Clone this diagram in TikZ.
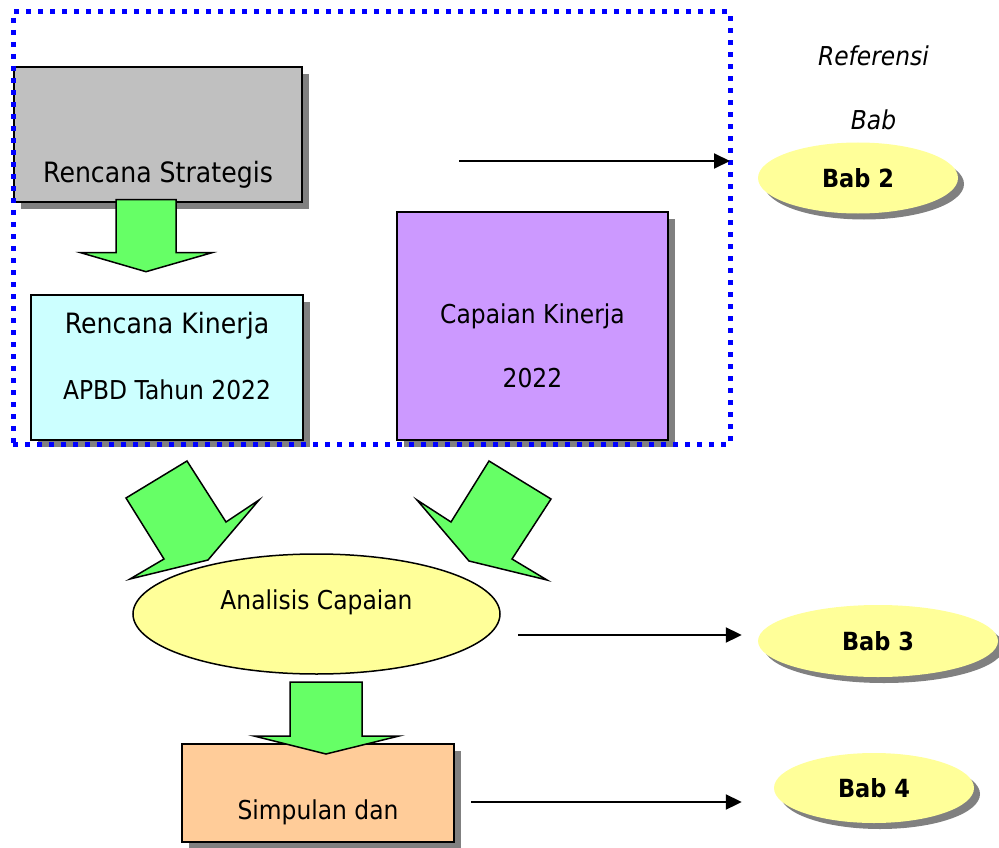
\documentclass[tikz,border=0pt]{standalone}
\usepackage{fontspec}
\setmainfont{DejaVu Sans}[FakeStretch=0.9]
\usepackage{tikz}
\usetikzlibrary{shapes.geometric,shadows,arrows.meta}

\definecolor{stratgray}{HTML}{C0C0C0}
\definecolor{kincyan}{HTML}{CCFFFF}
\definecolor{cappurple}{HTML}{CC99FF}
\definecolor{simporange}{HTML}{FFCC99}
\definecolor{babyellow}{HTML}{FFFF99}
\definecolor{blockgreen}{HTML}{66FF66}
\definecolor{shadowgray}{HTML}{808080}

\tikzset{
  big/.style={font=\fontsize{28}{34}\selectfont, text height=20.4pt, text depth=0pt, inner sep=0pt},
  mid/.style={font=\fontsize{26}{31}\selectfont, text height=19pt, text depth=0pt, inner sep=0pt},
  box/.style={draw, line width=2pt, rectangle,
    drop shadow={shadow xshift=7pt, shadow yshift=-7pt, fill=shadowgray, opacity=1}},
  bab/.style={ellipse, fill=babyellow, font=\bfseries\fontsize{25}{30}\selectfont,
    text height=18pt, text depth=0pt,
    drop shadow={shadow xshift=6pt, shadow yshift=-6pt, fill=shadowgray, opacity=1}},
  ref/.style={font=\itshape\fontsize{26}{31}\selectfont, text height=19pt, text depth=0pt, inner sep=0pt},
  block/.style={draw, line width=1.5pt, fill=blockgreen, line join=miter},
  conn/.style={line width=2pt, -{Triangle[length=16pt,width=15pt]}}
}

\begin{document}
\begin{tikzpicture}[x=1pt,y=-1pt]
\useasboundingbox (0,0) rectangle (999,848);

\node[
      box,
      fill=stratgray,
      minimum width=288pt,
      minimum height=135pt,
      label={[big,yshift=-38pt]center:Rencana Strategis}%< -- text sits low in the box
] (strat) at (158,134.5) {};

\node[
      box,
      fill=kincyan,
      minimum width=272pt,
      minimum height=145pt,
      label={[big,yshift=44pt]center:Rencana Kinerja},
      label={[mid,yshift=-22.5pt]center:APBD Tahun 2022}
] (kin) at (167,367.5) {};

\node[
      box,
      fill=cappurple,
      minimum width=271pt,
      minimum height=228pt,
      label={[mid,yshift=12pt]center:Capaian Kinerja},
      label={[mid,yshift=-51.5pt]center:2022}
] (cap) at (532.5,326) {};

% dotted frame round the first part
\node[
      draw=blue,
      line width=5pt,
      dash pattern=on 5pt off 7pt,
      outer sep=0pt,
      minimum width=717pt,
      minimum height=432pt
] (grp) at (371.5,228) {};

\node[
      ellipse,
      draw,
      line width=1.5pt,
      fill=babyellow,
      minimum width=367pt,
      minimum height=120pt,
      label={[mid,yshift=14.5pt]center:Analisis Capaian}
] (anal) at (316.5,614) {};

\node[
      box,
      fill=simporange,
      minimum width=272pt,
      minimum height=98pt,
      label={[mid,yshift=-17pt]center:Simpulan dan}
] (simp) at (318,793) {};

% green block arrows
\draw[block] (116,199.5) -- (176,199.5) -- (176,252.7) -- (212,252.7) -- (146,271.7)
  -- (80.7,252.7) -- (116,252.7) -- cycle;
\draw[block] (126,498) -- (187,461) -- (226,522) -- (259,500) -- (208,560)
  -- (130,579) -- (164,559) -- cycle;
\draw[block] (489,461) -- (551,499) -- (512,559) -- (547,580) -- (469,561)
  -- (417,500) -- (451,522) -- cycle;
\draw[block] (290,682) -- (362,682) -- (362,736) -- (399,736) -- (326,754)
  -- (254,736) -- (290,736) -- cycle;

% references
\node[ref] (refhead) at (873.5,56.5) {Referensi};
\node[ref] (babhead) at (873.5,120) {Bab};

\node[bab, minimum width=200pt, minimum height=71pt] (bab2) at (858,178) {Bab 2};
\node[bab, minimum width=240pt, minimum height=72pt] (bab3) at (878,641) {Bab 3};
\node[bab, minimum width=200pt, minimum height=70pt] (bab4) at (874,788) {Bab 4};

\coordinate (a2s) at (459,161);
\coordinate (a3s) at (518,635);
\coordinate (a4s) at (471,802);

\draw[conn] (a2s) -- (a2s -| grp.east);
\draw[conn] (a3s) -- ([xshift=-16pt]a3s -| bab3.west);
\draw[conn] (a4s) -- ([xshift=-32pt]a4s -| bab4.west);
\end{tikzpicture}
\end{document}
